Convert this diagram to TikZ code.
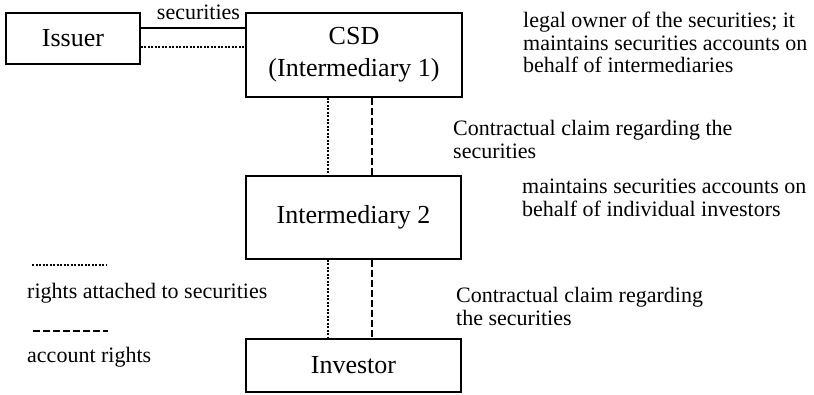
\documentclass[tikz,border=0pt]{standalone}
\usepackage{fontspec}
\setmainfont{Liberation Serif}
\usetikzlibrary{calc}

\begin{document}
\begin{tikzpicture}[x=1pt,y=-1pt,
    box/.style={draw,line width=1.4pt,inner sep=0pt,align=center,
        font=\fontsize{26}{32}\selectfont},
    note/.style={anchor=west,inner sep=0pt,align=left,
        font=\fontsize{22}{22.5}\selectfont},
    dotline/.style={line width=2.4pt,dash pattern=on 2pt off 1.5pt},
    dashline/.style={line width=2pt,dash pattern=on 7pt off 3pt}]

    \useasboundingbox (0,0) rectangle (814,394);

    % boxes of the holding chain
    \node[box,minimum width=134pt,minimum height=51pt] (issuer) at (73,38.5) {Issuer};
    \node[box,minimum width=216pt,minimum height=84pt] (csd) at (354,55) {CSD\\(Intermediary 1)};
    \node[box,minimum width=215pt,minimum height=83pt] (int2) at (353.5,217.5) {Intermediary 2};
    \node[box,minimum width=215pt,minimum height=53pt] (investor) at (353.5,365.5) {Investor};

    % issuer -- CSD
    \coordinate (solidL) at ($(issuer.north east)!0.3!(issuer.south east)$);
    \coordinate (dotL) at ($(issuer.north east)!0.667!(issuer.south east)$);
    \draw[line width=1.8pt] (solidL) -- (solidL -| csd.west);
    \draw[dotline] (dotL) -- (dotL -| csd.west);
    \node[note,anchor=base] (seclabel) at (198.5,19) {securities};

    % vertical links
    \coordinate (dotA) at ($(csd.south west)!0.38!(csd.south east)$);
    \coordinate (dashA) at ($(csd.south west)!0.583!(csd.south east)$);
    \draw[dotline] (dotA) -- (dotA |- int2.north);
    \draw[dashline] (dashA) -- (dashA |- int2.north);
    \coordinate (dotB) at (dotA |- int2.south);
    \coordinate (dashB) at (dashA |- int2.south);
    \draw[dotline] (dotB) -- (dotB |- investor.north);
    \draw[dashline] (dashB) -- (dashB |- investor.north);

    % notes on the right
    \node[note] (csdnote) at (523,42.5) {legal owner of the securities; it\\maintains securities accounts on\\behalf of intermediaries};
    \node[note] (claim1) at (453,139.5) {Contractual claim regarding the\\securities};
    \node[note] (int2note) at (522,198) {maintains securities accounts on\\behalf of individual investors};
    \node[note] (claim2) at (456,306.5) {Contractual claim regarding\\the securities};

    % legend
    \coordinate (legdotS) at (32,265);
    \coordinate (legdotE) at (107,265);
    \coordinate (legdashS) at (33,331);
    \coordinate (legdashE) at (108,331);
    \draw[dotline] (legdotS) -- (legdotE);
    \draw[dashline] (legdashS) -- (legdashE);
    \node[note] (legdot) at (27,293) {rights attached to securities};
    \node[note] (legdash) at (27,357) {account rights};

\end{tikzpicture}
\end{document}
